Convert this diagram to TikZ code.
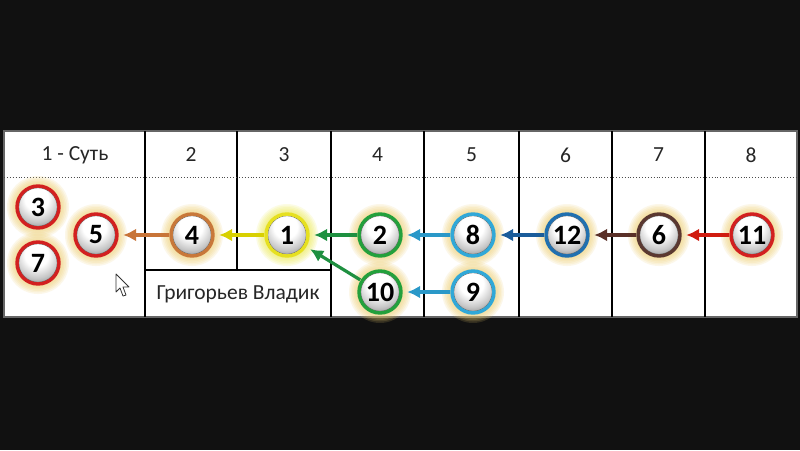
\documentclass[tikz,border=0pt]{standalone}
\usepackage{fontspec}
\setmainfont{Carlito}
\usetikzlibrary{arrows.meta}
\definecolor{bg}{HTML}{111111}
\definecolor{cred}{HTML}{D22020}
\definecolor{corange}{HTML}{C8783A}
\definecolor{cyellow}{HTML}{E6E020}
\definecolor{cgreen}{HTML}{23A03C}
\definecolor{clblue}{HTML}{30A8D8}
\definecolor{cblue}{HTML}{2070B0}
\definecolor{cbrown}{HTML}{5A3830}
\definecolor{aorange}{HTML}{C87438}
\definecolor{ayellow}{HTML}{D8D000}
\definecolor{agreen}{HTML}{1E9040}
\definecolor{alblue}{HTML}{2A98C8}
\definecolor{ablue}{HTML}{1A5C9A}
\definecolor{abrown}{HTML}{5A3028}
\definecolor{ared}{HTML}{D01C10}
\definecolor{gold}{HTML}{EFCF70}
\definecolor{ygold}{HTML}{EDEB50}
\pgfdeclareradialshading{ballshade}{\pgfpoint{-2bp}{12bp}}{color(0bp)=(white); color(14bp)=(white); color(26bp)=(black!22); color(36bp)=(black!48); color(46bp)=(black!62); color(60bp)=(black!68); color(80bp)=(black!70)}
\newcommand\myball[5]{%
  \foreach \rr in {22,23.5,...,31} \fill[#4, opacity=0.15] (#2) circle (\rr pt);
  \shade[shading=ballshade] (#2) circle (21pt);
  \draw[black!60, line width=0.6pt] (#2) circle (19.2pt);
  \draw[#3, line width=3.4pt] (#2) circle (21pt);
  \node[ballnum] (#1) at (#2) {#5};
}
\tikzset{
  ballnum/.style={circle, minimum size=46pt, inner sep=0pt, font=\fontsize{28}{28}\selectfont\bfseries},
  arr/.style={line width=3.2pt, -{Latex[length=13pt,width=13pt]}, shorten >=4pt},
  hdr/.style={font=\fontsize{21.5}{22}\selectfont, text=black!85},
  grid/.style={black, line width=1.1pt},
}
\begin{document}
\begin{tikzpicture}[x=1pt,y=-1pt]
\useasboundingbox (0,0) rectangle (800,450);
\fill[bg] (0,0) rectangle (800,450);
% table
\fill[white] (4,131) rectangle (797,317);
\draw[black!60, line width=1.2pt] (4,131) rectangle (797,317);
\foreach \xx in {145,331,424,519,612,705} \draw[grid] (\xx,131) -- (\xx,317);
\draw[grid] (237,131) -- (237,270);
\draw[grid] (145,270) -- (331,270);
\draw[black!70, line width=0.9pt, dotted] (4,177) -- (797,177);
% headers
\node[hdr] (h1) at (75,155) {1 - Суть};
\node[hdr] (h2) at (191,155) {2};
\node[hdr] (h3) at (284,155) {3};
\node[hdr] (h4) at (377.5,155) {4};
\node[hdr] (h5) at (471.5,155) {5};
\node[hdr] (h6) at (565.5,155) {6};
\node[hdr] (h7) at (658.5,155) {7};
\node[hdr] (h8) at (751,155) {8};
\node[hdr] (name) at (238,294) {Григорьев Владик};
% balls
\myball{b3}{38,207}{cred}{gold}{3}
\myball{b7}{38,263}{cred}{gold}{7}
\myball{b5}{96,235}{cred}{gold}{5}
\myball{b4}{192,235}{corange}{gold}{4}
\myball{b1}{287,235}{cyellow}{ygold}{1}
\myball{b2}{380,235}{cgreen}{gold}{2}
\myball{b8}{473,235}{clblue}{gold}{8}
\myball{b10}{380,292}{cgreen}{gold}{10}
\myball{b9}{473,292}{clblue}{gold}{9}
\myball{b12}{567,235}{cblue}{gold}{12}
\myball{b6}{659,235}{cbrown}{gold}{6}
\myball{b11}{752,235}{cred}{gold}{11}
% arrows
\draw[arr, aorange] (b4) -- (b5);
\draw[arr, ayellow] (b1) -- (b4);
\draw[arr, agreen] (b2) -- (b1);
\draw[arr, agreen] (b10) -- (b1);
\draw[arr, alblue] (b8) -- (b2);
\draw[arr, alblue] (b9) -- (b10);
\draw[arr, ablue] (b12) -- (b8);
\draw[arr, abrown] (b6) -- (b12);
\draw[arr, ared] (b11) -- (b6);
% mouse cursor
\draw[black!80, fill=white, line width=0.8pt, line join=round] (116,274) -- (116,292) -- (120,288) -- (123,296) -- (126,295) -- (123,287) -- (129,287) -- cycle;
\end{tikzpicture}
\end{document}
